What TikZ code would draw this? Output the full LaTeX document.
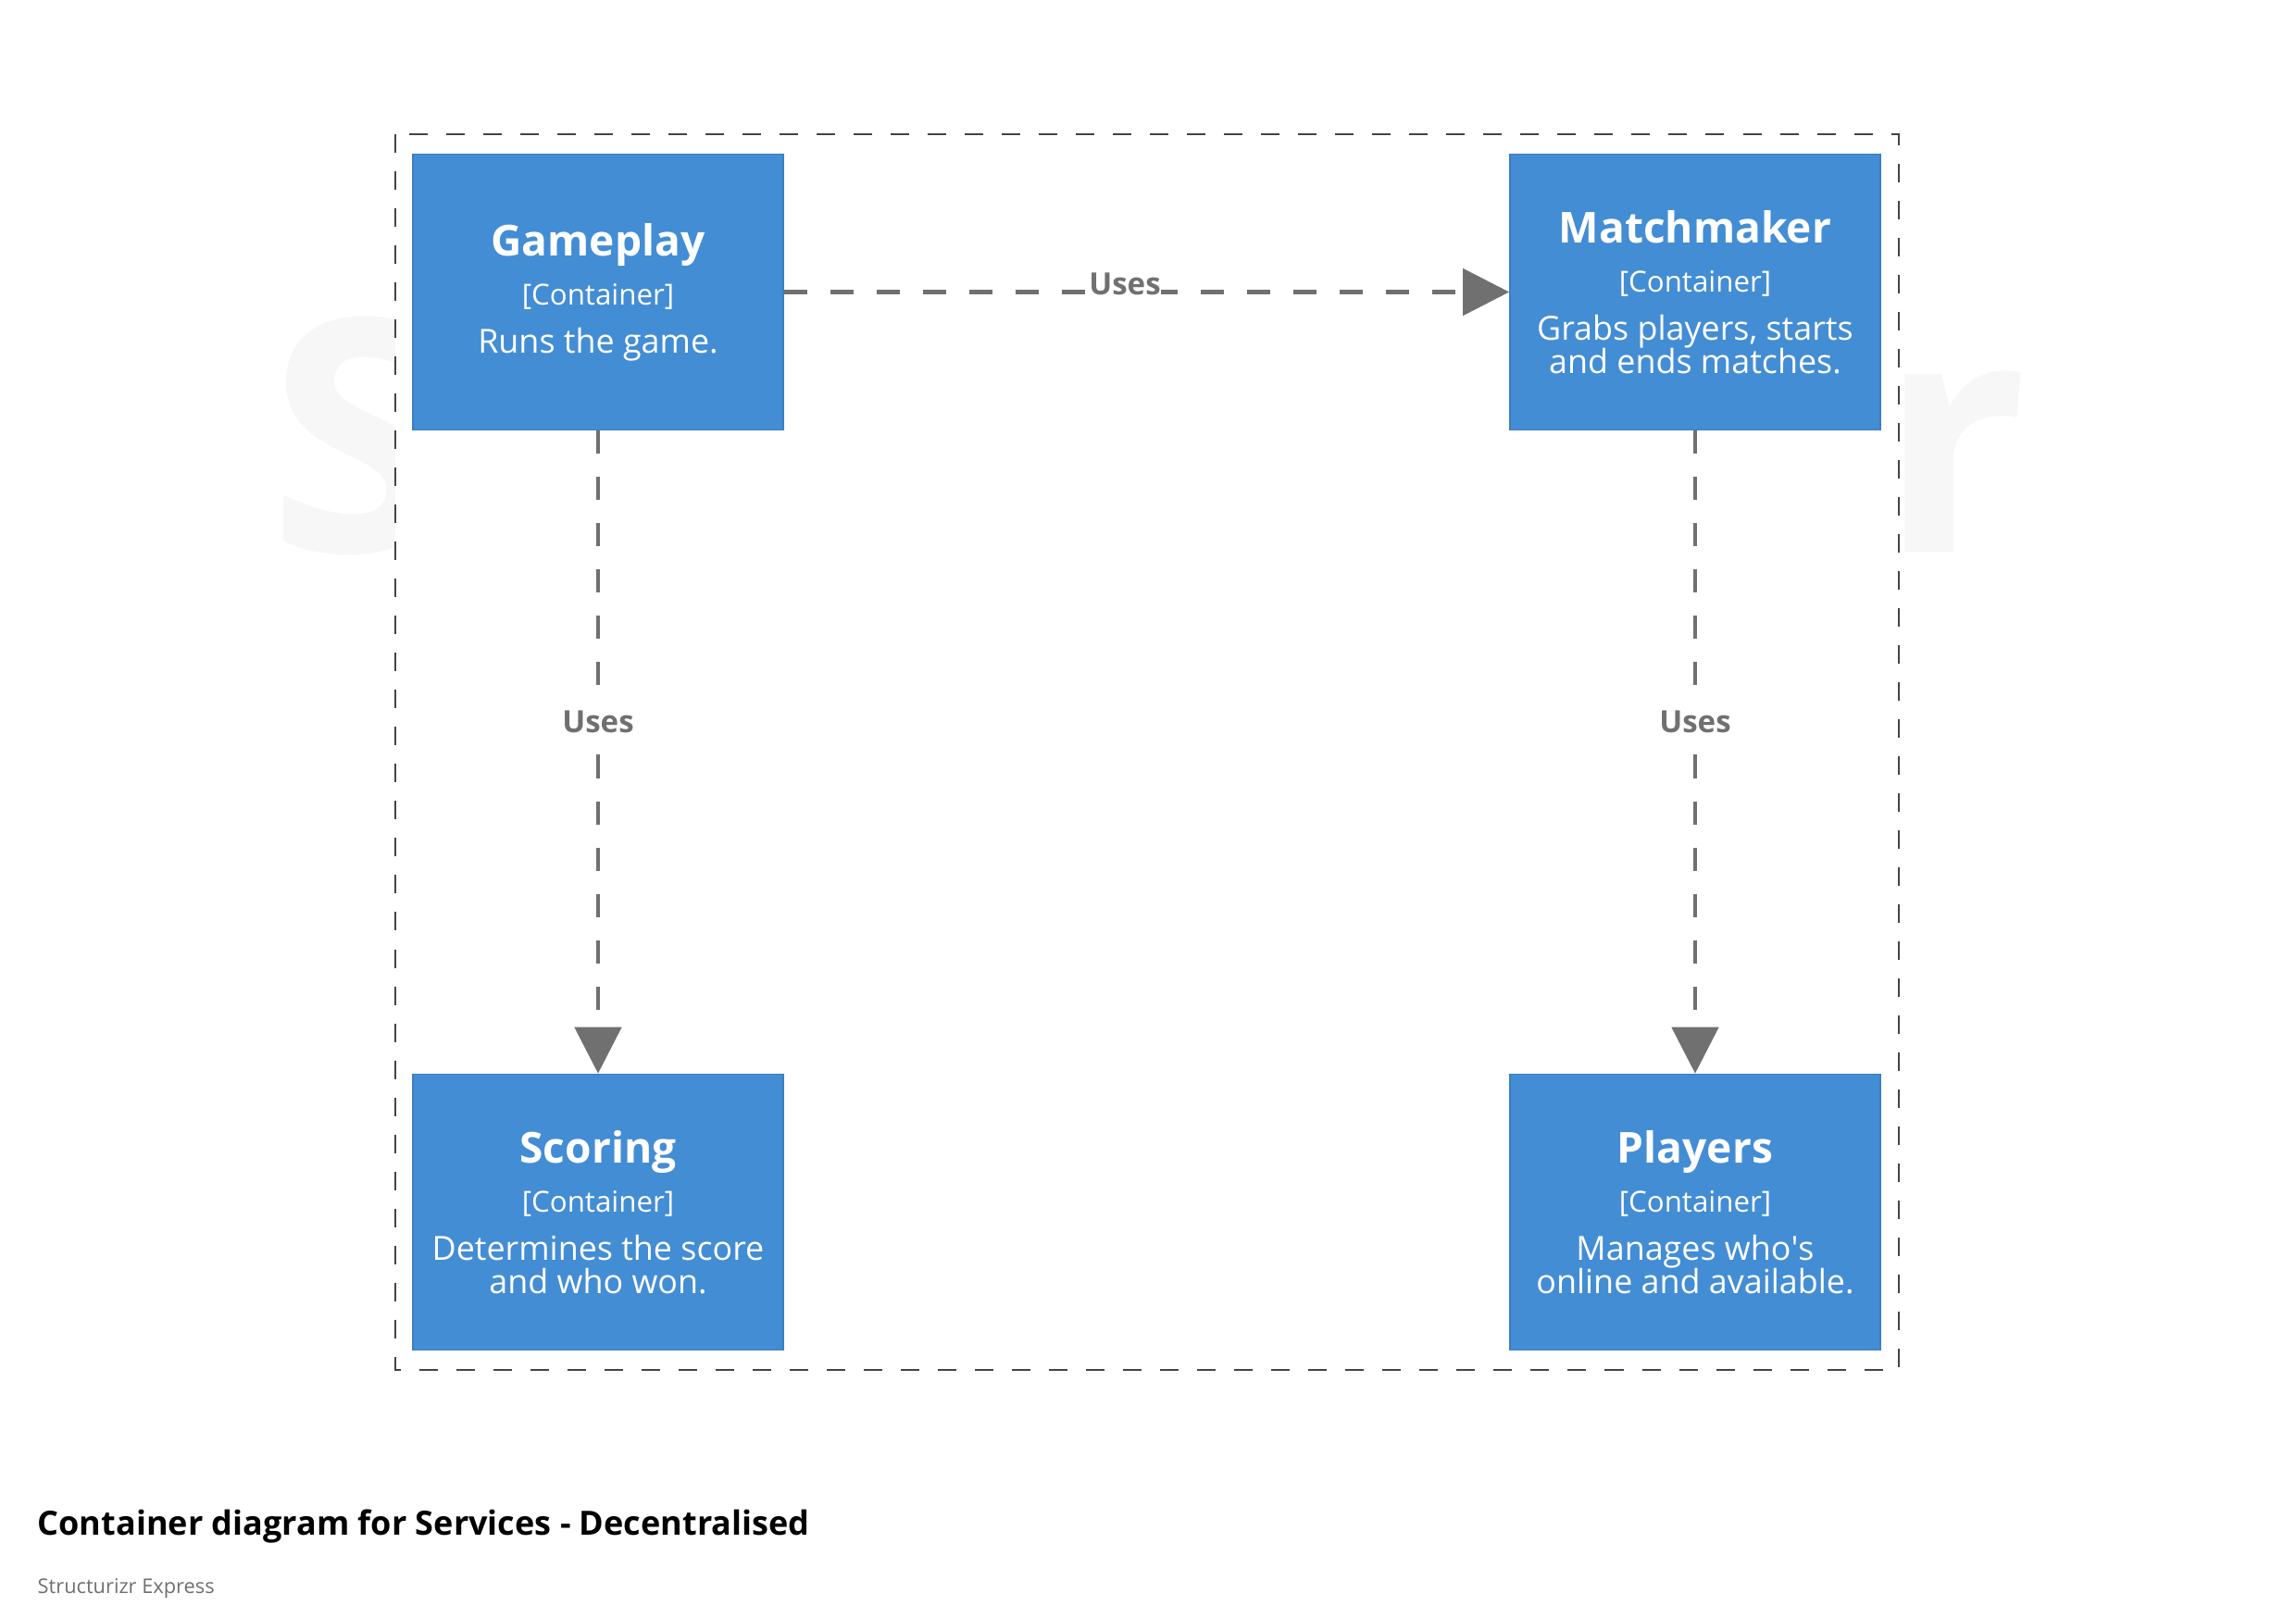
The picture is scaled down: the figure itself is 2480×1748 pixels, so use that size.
\documentclass[tikz,border=0pt]{standalone}
\usepackage{fontspec}
\setmainfont{Open Sans}
\newfontfamily\nomapfont{Open Sans}
\usepackage{tikz}
\usetikzlibrary{arrows.meta}

\definecolor{contblue}{HTML}{438DD5}
\definecolor{contedge}{HTML}{3C7FC0}
\definecolor{relgray}{HTML}{707070}
\definecolor{boundgray}{HTML}{444444}
\definecolor{markgray}{HTML}{F7F7F7}
\setlength{\lineskiplimit}{-100pt}

\newcommand{\cname}[1]{{\fontsize{13.1}{10.2}\selectfont\bfseries #1}}
\newcommand{\ctype}{{\fontsize{8.9}{10.2}\selectfont [Container]}}
\newcommand{\squote}{{\nomapfont\char39}}

\begin{document}
\begin{tikzpicture}[x=0.01cm, y=-0.01cm]
\tikzstyle{every node} = [font = \fontsize{10.2}{10.2}\selectfont]
\tikzstyle{container} = [draw=contedge, fill=contblue, text=white, align=center,
  minimum width=4cm, minimum height=2.98cm, inner sep=0pt, line width=0.4pt]
\tikzstyle{uses} = [draw=relgray, line width=1.4pt, dash pattern=on 0.25cm off 0.25cm,
  -{Triangle[length=0.5cm, width=0.5cm]}]
\tikzstyle{useslabel} = [font=\fontsize{9.4}{10}\selectfont\bfseries, text=relgray, fill=white]

\fill[white] (0,0) rectangle (2480,1748);
\useasboundingbox (0,0) rectangle (2480,1748);

% watermark and boundary
\node[text=markgray, font=\fontsize{100}{100}\selectfont\bfseries, anchor=base, inner sep=0pt]
  (mark) at (1240,596) {Structurizr};
\draw[boundgray, fill=white, line width=0.57pt, dash pattern=on 0.2cm off 0.2cm]
  (427,145) rectangle (2051,1480);

% containers
\node[container] (game) at (646, 315.5) {
  \cname{Gameplay}\\[4.9pt]\ctype\\[4.6pt]Runs the game.
};

\node[container] (match) at (1831, 315.5) {
  \cname{Matchmaker}\\[4.9pt]\ctype\\[4.6pt]Grabs players, starts\\and ends matches.
};

\node[container] (score) at (646, 1309.5) {
  \cname{Scoring}\\[4.9pt]\ctype\\[4.6pt]Determines the score\\and who won.
};

\node[container] (players) at (1831, 1309.5) {
  \cname{Players}\\[4.9pt]\ctype\\[4.6pt]Manages who\squote s\\online and available.
};

% relazioni
\draw[uses] (game.east) -- node[useslabel, pos=0.47, anchor=base, inner sep=0pt, yshift=-0.03cm] {Uses} (match.west);
\draw[uses] (game.south) -- node[useslabel, pos=0.453, inner sep=0.12cm] {Uses} (score.north);
\draw[uses] (match.south) -- node[useslabel, pos=0.453, inner sep=0.12cm] {Uses} (players.north);

% titolo
\node[anchor=base west, inner sep=0pt, font=\fontsize{10.25}{12}\selectfont\bfseries]
  (title) at (40,1658) {Container diagram for Services - Decentralised};
\node[anchor=base west, inner sep=0pt, text=relgray, font=\fontsize{6.2}{8}\selectfont]
  (credit) at (40,1721) {Structurizr Express};

\end{tikzpicture}
\end{document}
